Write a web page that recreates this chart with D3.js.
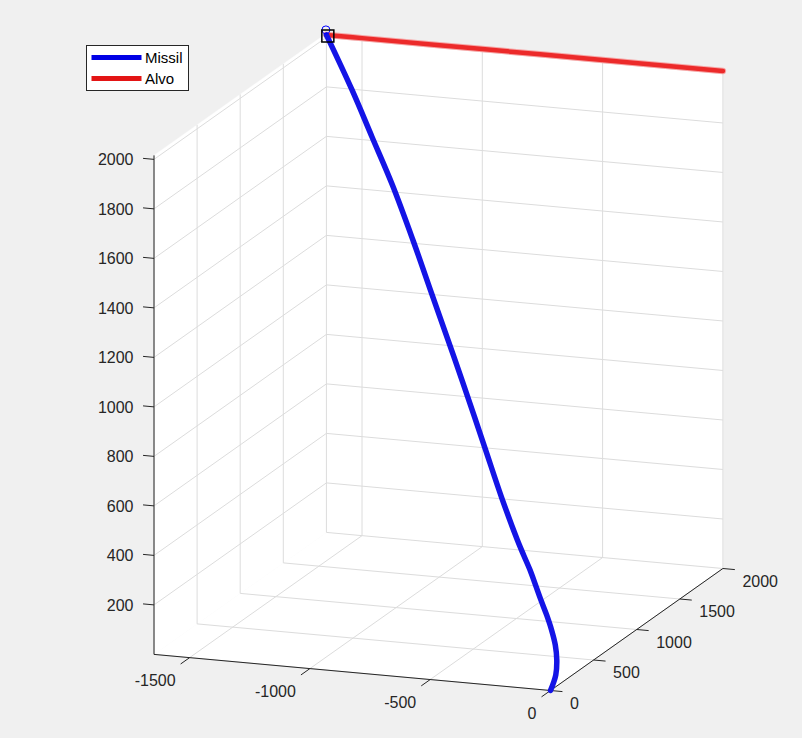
<!DOCTYPE html>
<html><head><meta charset="utf-8">
<script src="https://cdn.jsdelivr.net/npm/d3@7"></script>
<style>
html,body{margin:0;padding:0;background:#f0f0f0;}
svg{display:block;font-family:"Liberation Sans",Arial,Helvetica,sans-serif;}
</style>
</head><body>
<svg id="c" width="802" height="738"></svg>
<script>
// ---- data ----
const missilX = [0, 4, -9, -32, -64, -101, -141, -180, -219, -262, -304, -417, -542, -709, -811, -931, -1066, -1211, -1348, -1482, -1648];
const missilY = [0, 50, 98, 145, 191, 237, 282, 328, 374, 419, 464, 595, 748, 952, 1074, 1217, 1379, 1546, 1692, 1834, 2000];
const missilZ = [0, 51, 98, 145, 192, 238, 284, 330, 375, 421, 467, 598, 752, 957, 1080, 1224, 1386, 1554, 1700, 1843, 2010];
const alvoX = [0, -500, -1000, -1500, -1648];
const alvoY = [2000, 2000, 2000, 2000, 2000];
const alvoZ = [2010, 2010, 2010, 2010, 2010];
const missilMarker = [-1650, 2000, 2030];   // circle
const alvoMarker = [-1642, 2000, 2006];     // square
const xTicks = [-1500, -1000, -500, 0];
const yTicks = [0, 500, 1000, 1500, 2000];
const zTicks = [200, 400, 600, 800, 1000, 1200, 1400, 1600, 1800, 2000];
const xLim = [-1648, 0], yLim = [0, 2000], zLim = [0, 2016];
const legendLabels = ["Missil", "Alvo"];

// ---- layout ----
const svg = d3.select("#c");
const sx = d3.scaleLinear().domain(xLim).range([0, 1]);
const sy = d3.scaleLinear().domain(yLim).range([0, 1]);
const sz = d3.scaleLinear().domain(zLim).range([0, 1]);
const P0 = [154.0, 654.4], EX = [396.5, 36.1], EY = [172.4, -122.0], EZ = [0, -499];
function proj(x, y, z) {
  const u = sx(x), v = sy(y), w = sz(z);
  return [P0[0] + u*EX[0] + v*EY[0] + w*EZ[0], P0[1] + u*EX[1] + v*EY[1] + w*EZ[1]];
}
const [x0, x1] = xLim, [y0, y1] = yLim, [z0, z1] = zLim;
const AX = "#262626", GRID = "#dcdcdc";

// planes
const planes = [
  [[x0,y0,z0],[x1,y0,z0],[x1,y1,z0],[x0,y1,z0]],
  [[x0,y1,z0],[x1,y1,z0],[x1,y1,z1],[x0,y1,z1]],
  [[x0,y0,z0],[x0,y1,z0],[x0,y1,z1],[x0,y0,z1]]
];
svg.append("g").selectAll("polygon").data(planes).join("polygon")
  .attr("points", d => d.map(p => proj(...p).join(",")).join(" "))
  .attr("fill", "#fff").attr("stroke", "#fff").attr("stroke-width", 0.5);

// grid lines
const grid = [];
xTicks.forEach(t => { grid.push([[t,y1,z0],[t,y1,z1]]); grid.push([[t,y0,z0],[t,y1,z0]]); });
yTicks.forEach(t => { grid.push([[x0,t,z0],[x0,t,z1]]); grid.push([[x0,t,z0],[x1,t,z0]]); });
zTicks.forEach(t => { grid.push([[x0,y1,t],[x1,y1,t]]); grid.push([[x0,y0,t],[x0,y1,t]]); });
svg.append("g").selectAll("line").data(grid).join("line")
  .attr("x1", d => proj(...d[0])[0]).attr("y1", d => proj(...d[0])[1])
  .attr("x2", d => proj(...d[1])[0]).attr("y2", d => proj(...d[1])[1])
  .attr("stroke", GRID).attr("stroke-width", 1);

// axes
const axes = [[[x0,y0,z0],[x1,y0,z0]], [[x1,y0,z0],[x1,y1,z0]], [[x0,y0,z0],[x0,y0,z1]]];
svg.append("g").selectAll("line").data(axes).join("line")
  .attr("x1", d => proj(...d[0])[0]).attr("y1", d => proj(...d[0])[1])
  .attr("x2", d => proj(...d[1])[0]).attr("y2", d => proj(...d[1])[1])
  .attr("stroke", AX).attr("stroke-width", 1);

function unit(v, len) { const n = Math.hypot(v[0], v[1]); return [v[0]/n*len, v[1]/n*len]; }
const tx = unit([-EY[0], -EY[1]], 11), ty = unit(EX, 12), tz = unit([-EX[0], -EX[1]], 11);
const tg = svg.append("g").attr("stroke", AX).attr("stroke-width", 1);
const lg = svg.append("g").attr("fill", AX).style("font-size", "16px");
xTicks.forEach(t => {
  const p = proj(t, y0, z0);
  tg.append("line").attr("x1", p[0]).attr("y1", p[1]).attr("x2", p[0]+tx[0]).attr("y2", p[1]+tx[1]);
  lg.append("text").attr("x", p[0]-14).attr("y", p[1]+23).attr("text-anchor", "end")
    .attr("dominant-baseline", "central").text(t);
});
yTicks.forEach(t => {
  const p = proj(x1, t, z0);
  tg.append("line").attr("x1", p[0]).attr("y1", p[1]).attr("x2", p[0]+ty[0]).attr("y2", p[1]+ty[1]);
  lg.append("text").attr("x", p[0]+19.5).attr("y", p[1]+12.5).attr("text-anchor", "start")
    .attr("dominant-baseline", "central").text(t);
});
zTicks.forEach(t => {
  const p = proj(x0, y0, t);
  tg.append("line").attr("x1", p[0]).attr("y1", p[1]).attr("x2", p[0]+tz[0]).attr("y2", p[1]+tz[1]);
  lg.append("text").attr("x", p[0]-20.5).attr("y", p[1]+0.5).attr("text-anchor", "end")
    .attr("dominant-baseline", "central").text(t);
});

// data lines
const line = d3.line().curve(d3.curveCatmullRom.alpha(0.5));
const alvoPts = alvoX.map((x, i) => proj(x, alvoY[i], alvoZ[i]));
const missilPts = missilX.map((x, i) => proj(x, missilY[i], missilZ[i]));
svg.append("path").attr("d", line(alvoPts)).attr("fill", "none")
  .attr("stroke", "#f7a5a5").attr("stroke-width", 6.5).attr("stroke-linecap", "round");
svg.append("path").attr("d", line(alvoPts)).attr("fill", "none")
  .attr("stroke", "#ec2a2a").attr("stroke-width", 4.5).attr("stroke-linecap", "round");
svg.append("path").attr("d", line(missilPts)).attr("fill", "none")
  .attr("stroke", "#1414e6").attr("stroke-width", 5.5).attr("stroke-linecap", "round");

// markers
const mc = proj(...missilMarker);
svg.append("circle").attr("cx", mc[0]).attr("cy", mc[1]).attr("r", 4)
  .attr("fill", "none").attr("stroke", "#0000ff").attr("stroke-width", 1);
const ms = proj(...alvoMarker);
svg.append("rect").attr("x", ms[0]-6).attr("y", ms[1]-6).attr("width", 12).attr("height", 12)
  .attr("fill", "none").attr("stroke", "#000").attr("stroke-width", 1.5);

// legend
const leg = svg.append("g");
leg.append("rect").attr("x", 86.5).attr("y", 45.5).attr("width", 102).attr("height", 45)
  .attr("fill", "#fff").attr("stroke", AX).attr("stroke-width", 1);
const legColors = ["#0000e6", "#e31515"];
legendLabels.forEach((lab, i) => {
  const yy = 57.5 + i*21;
  leg.append("line").attr("x1", 91.5).attr("x2", 141.5).attr("y1", yy).attr("y2", yy)
    .attr("stroke", legColors[i]).attr("stroke-width", 5);
  leg.append("text").attr("x", 145).attr("y", yy).attr("dominant-baseline", "central")
    .attr("fill", "#000").style("font-size", "15px").text(lab);
});
</script>
</body></html>
